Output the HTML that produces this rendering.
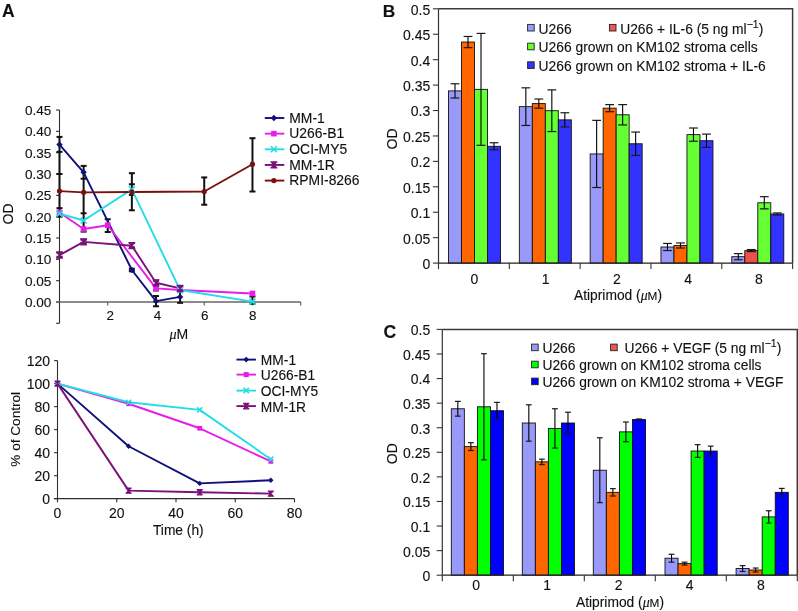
<!DOCTYPE html>
<html><head><meta charset="utf-8"><style>
html,body{margin:0;padding:0;background:#fff;width:798px;height:611px;overflow:hidden}
svg{display:block;will-change:transform}
text{font-family:"Liberation Sans", sans-serif;fill:#111;stroke:#111;stroke-width:0.12px}
</style></head><body>
<svg width="798" height="611" viewBox="0 0 798 611">
<rect width="798" height="611" fill="#fff"/>
<text x="1.90" y="16.80" font-size="17.5" text-anchor="start" font-weight="bold" >A</text>
<text x="382.70" y="16.80" font-size="17.3" text-anchor="start" font-weight="bold" >B</text>
<text x="383.40" y="338.20" font-size="17.6" text-anchor="start" font-weight="bold" >C</text>
<line x1="59.50" y1="110.03" x2="59.50" y2="323.33" stroke="#2e2e2e" stroke-width="1.1"/>
<line x1="56.10" y1="323.33" x2="59.50" y2="323.33" stroke="#2e2e2e" stroke-width="1.1"/>
<line x1="56.10" y1="302.00" x2="59.50" y2="302.00" stroke="#2e2e2e" stroke-width="1.1"/>
<text x="51.40" y="307.00" font-size="13.6" text-anchor="end" font-weight="normal" >0.00</text>
<line x1="56.10" y1="280.67" x2="59.50" y2="280.67" stroke="#2e2e2e" stroke-width="1.1"/>
<text x="51.40" y="285.67" font-size="13.6" text-anchor="end" font-weight="normal" >0.05</text>
<line x1="56.10" y1="259.34" x2="59.50" y2="259.34" stroke="#2e2e2e" stroke-width="1.1"/>
<text x="51.40" y="264.34" font-size="13.6" text-anchor="end" font-weight="normal" >0.10</text>
<line x1="56.10" y1="238.01" x2="59.50" y2="238.01" stroke="#2e2e2e" stroke-width="1.1"/>
<text x="51.40" y="243.01" font-size="13.6" text-anchor="end" font-weight="normal" >0.15</text>
<line x1="56.10" y1="216.68" x2="59.50" y2="216.68" stroke="#2e2e2e" stroke-width="1.1"/>
<text x="51.40" y="221.68" font-size="13.6" text-anchor="end" font-weight="normal" >0.20</text>
<line x1="56.10" y1="195.35" x2="59.50" y2="195.35" stroke="#2e2e2e" stroke-width="1.1"/>
<text x="51.40" y="200.35" font-size="13.6" text-anchor="end" font-weight="normal" >0.25</text>
<line x1="56.10" y1="174.02" x2="59.50" y2="174.02" stroke="#2e2e2e" stroke-width="1.1"/>
<text x="51.40" y="179.02" font-size="13.6" text-anchor="end" font-weight="normal" >0.30</text>
<line x1="56.10" y1="152.69" x2="59.50" y2="152.69" stroke="#2e2e2e" stroke-width="1.1"/>
<text x="51.40" y="157.69" font-size="13.6" text-anchor="end" font-weight="normal" >0.35</text>
<line x1="56.10" y1="131.36" x2="59.50" y2="131.36" stroke="#2e2e2e" stroke-width="1.1"/>
<text x="51.40" y="136.36" font-size="13.6" text-anchor="end" font-weight="normal" >0.40</text>
<line x1="56.10" y1="110.03" x2="59.50" y2="110.03" stroke="#2e2e2e" stroke-width="1.1"/>
<text x="51.40" y="115.03" font-size="13.6" text-anchor="end" font-weight="normal" >0.45</text>
<line x1="56.10" y1="302.00" x2="300.70" y2="302.00" stroke="#666" stroke-width="1.7"/>
<line x1="107.74" y1="302.00" x2="107.74" y2="305.40" stroke="#555" stroke-width="1.1"/>
<line x1="155.98" y1="302.00" x2="155.98" y2="305.40" stroke="#555" stroke-width="1.1"/>
<line x1="204.22" y1="302.00" x2="204.22" y2="305.40" stroke="#555" stroke-width="1.1"/>
<line x1="252.46" y1="302.00" x2="252.46" y2="305.40" stroke="#555" stroke-width="1.1"/>
<line x1="300.70" y1="302.00" x2="300.70" y2="305.40" stroke="#555" stroke-width="1.1"/>
<text x="110.24" y="319.60" font-size="13.4" text-anchor="middle" font-weight="normal" >2</text>
<text x="157.58" y="319.60" font-size="13.4" text-anchor="middle" font-weight="normal" >4</text>
<text x="204.72" y="319.60" font-size="13.4" text-anchor="middle" font-weight="normal" >6</text>
<text x="252.76" y="319.60" font-size="13.4" text-anchor="middle" font-weight="normal" >8</text>
<text x="0" y="0" font-size="14" text-anchor="middle" transform="translate(13.3,214) rotate(-90)">OD</text>
<text x="169.5" y="339" font-size="14"><tspan font-family="Liberation Serif" font-style="italic">&#956;</tspan>M</text>
<line x1="59.50" y1="136.91" x2="59.50" y2="216.68" stroke="#111" stroke-width="2.0"/>
<line x1="56.50" y1="136.91" x2="62.50" y2="136.91" stroke="#111" stroke-width="2.0"/>
<line x1="56.50" y1="151.84" x2="62.50" y2="151.84" stroke="#111" stroke-width="2.0"/>
<line x1="56.50" y1="174.02" x2="62.50" y2="174.02" stroke="#111" stroke-width="2.0"/>
<line x1="56.50" y1="208.15" x2="62.50" y2="208.15" stroke="#111" stroke-width="2.0"/>
<line x1="56.50" y1="216.68" x2="62.50" y2="216.68" stroke="#111" stroke-width="2.0"/>
<line x1="83.62" y1="165.91" x2="83.62" y2="231.61" stroke="#111" stroke-width="2.0"/>
<line x1="80.62" y1="165.91" x2="86.62" y2="165.91" stroke="#111" stroke-width="2.0"/>
<line x1="80.62" y1="178.71" x2="86.62" y2="178.71" stroke="#111" stroke-width="2.0"/>
<line x1="80.62" y1="213.27" x2="86.62" y2="213.27" stroke="#111" stroke-width="2.0"/>
<line x1="80.62" y1="231.61" x2="86.62" y2="231.61" stroke="#111" stroke-width="2.0"/>
<line x1="107.74" y1="219.24" x2="107.74" y2="232.04" stroke="#111" stroke-width="2.0"/>
<line x1="104.74" y1="219.24" x2="110.74" y2="219.24" stroke="#111" stroke-width="2.0"/>
<line x1="104.74" y1="232.04" x2="110.74" y2="232.04" stroke="#111" stroke-width="2.0"/>
<line x1="131.86" y1="173.17" x2="131.86" y2="210.28" stroke="#111" stroke-width="2.0"/>
<line x1="128.86" y1="173.17" x2="134.86" y2="173.17" stroke="#111" stroke-width="2.0"/>
<line x1="128.86" y1="184.26" x2="134.86" y2="184.26" stroke="#111" stroke-width="2.0"/>
<line x1="128.86" y1="194.92" x2="134.86" y2="194.92" stroke="#111" stroke-width="2.0"/>
<line x1="128.86" y1="210.28" x2="134.86" y2="210.28" stroke="#111" stroke-width="2.0"/>
<line x1="131.86" y1="243.13" x2="131.86" y2="247.40" stroke="#111" stroke-width="2.0"/>
<line x1="128.86" y1="243.13" x2="134.86" y2="243.13" stroke="#111" stroke-width="2.0"/>
<line x1="128.86" y1="247.40" x2="134.86" y2="247.40" stroke="#111" stroke-width="2.0"/>
<line x1="131.86" y1="268.73" x2="131.86" y2="271.28" stroke="#111" stroke-width="2.0"/>
<line x1="128.86" y1="271.28" x2="134.86" y2="271.28" stroke="#111" stroke-width="2.0"/>
<line x1="128.86" y1="268.73" x2="134.86" y2="268.73" stroke="#111" stroke-width="2.0"/>
<line x1="155.98" y1="296.03" x2="155.98" y2="306.27" stroke="#111" stroke-width="2.0"/>
<line x1="152.98" y1="306.27" x2="158.98" y2="306.27" stroke="#111" stroke-width="2.0"/>
<line x1="152.98" y1="296.03" x2="158.98" y2="296.03" stroke="#111" stroke-width="2.0"/>
<line x1="155.98" y1="280.67" x2="155.98" y2="284.94" stroke="#111" stroke-width="2.0"/>
<line x1="152.98" y1="284.94" x2="158.98" y2="284.94" stroke="#111" stroke-width="2.0"/>
<line x1="152.98" y1="280.67" x2="158.98" y2="280.67" stroke="#111" stroke-width="2.0"/>
<line x1="155.98" y1="286.22" x2="155.98" y2="290.48" stroke="#111" stroke-width="2.0"/>
<line x1="152.98" y1="290.48" x2="158.98" y2="290.48" stroke="#111" stroke-width="2.0"/>
<line x1="152.98" y1="286.22" x2="158.98" y2="286.22" stroke="#111" stroke-width="2.0"/>
<line x1="83.62" y1="239.72" x2="83.62" y2="243.13" stroke="#111" stroke-width="2.0"/>
<line x1="80.62" y1="243.13" x2="86.62" y2="243.13" stroke="#111" stroke-width="2.0"/>
<line x1="80.62" y1="239.72" x2="86.62" y2="239.72" stroke="#111" stroke-width="2.0"/>
<line x1="59.50" y1="252.51" x2="59.50" y2="256.78" stroke="#111" stroke-width="2.0"/>
<line x1="56.50" y1="256.78" x2="62.50" y2="256.78" stroke="#111" stroke-width="2.0"/>
<line x1="56.50" y1="252.51" x2="62.50" y2="252.51" stroke="#111" stroke-width="2.0"/>
<line x1="180.10" y1="286.64" x2="180.10" y2="290.06" stroke="#111" stroke-width="2.0"/>
<line x1="177.10" y1="290.06" x2="183.10" y2="290.06" stroke="#111" stroke-width="2.0"/>
<line x1="177.10" y1="286.64" x2="183.10" y2="286.64" stroke="#111" stroke-width="2.0"/>
<line x1="180.10" y1="286.64" x2="180.10" y2="302.85" stroke="#111" stroke-width="2.0"/>
<line x1="177.10" y1="302.85" x2="183.10" y2="302.85" stroke="#111" stroke-width="2.0"/>
<line x1="177.10" y1="291.33" x2="183.10" y2="291.33" stroke="#111" stroke-width="2.0"/>
<line x1="177.10" y1="286.64" x2="183.10" y2="286.64" stroke="#111" stroke-width="2.0"/>
<line x1="204.22" y1="177.43" x2="204.22" y2="204.74" stroke="#111" stroke-width="2.0"/>
<line x1="201.22" y1="204.74" x2="207.22" y2="204.74" stroke="#111" stroke-width="2.0"/>
<line x1="201.22" y1="177.43" x2="207.22" y2="177.43" stroke="#111" stroke-width="2.0"/>
<line x1="252.46" y1="138.19" x2="252.46" y2="191.51" stroke="#111" stroke-width="2.0"/>
<line x1="249.46" y1="191.51" x2="255.46" y2="191.51" stroke="#111" stroke-width="2.0"/>
<line x1="249.46" y1="138.19" x2="255.46" y2="138.19" stroke="#111" stroke-width="2.0"/>
<line x1="252.46" y1="296.45" x2="252.46" y2="303.71" stroke="#111" stroke-width="2.0"/>
<line x1="249.46" y1="303.71" x2="255.46" y2="303.71" stroke="#111" stroke-width="2.0"/>
<line x1="249.46" y1="296.45" x2="255.46" y2="296.45" stroke="#111" stroke-width="2.0"/>
<path d="M59.50 144.58L83.62 172.31L131.86 270.00L155.98 301.15L180.10 296.88" fill="none" stroke="#10107a" stroke-width="1.9" stroke-linejoin="round"/>
<path d="M59.50 212.41L83.62 229.05L107.74 225.21L155.98 288.35L180.10 290.06L252.46 293.47" fill="none" stroke="#e81ee8" stroke-width="1.9" stroke-linejoin="round"/>
<path d="M59.50 213.69L83.62 220.52L131.86 189.38L180.10 290.06L252.46 301.57" fill="none" stroke="#22dde6" stroke-width="1.9" stroke-linejoin="round"/>
<path d="M59.50 255.07L83.62 241.85L131.86 245.69L155.98 282.80L180.10 288.35" fill="none" stroke="#7a127a" stroke-width="1.9" stroke-linejoin="round"/>
<path d="M59.50 191.08L83.62 192.36L131.86 191.94L204.22 191.51L252.46 164.21" fill="none" stroke="#7a1010" stroke-width="1.9" stroke-linejoin="round"/>
<path d="M59.50 141.38L62.70 144.58L59.50 147.78L56.30 144.58Z" fill="#10107a"/>
<path d="M83.62 169.11L86.82 172.31L83.62 175.51L80.42 172.31Z" fill="#10107a"/>
<path d="M131.86 266.81L135.06 270.00L131.86 273.20L128.66 270.00Z" fill="#10107a"/>
<path d="M155.98 297.95L159.18 301.15L155.98 304.35L152.78 301.15Z" fill="#10107a"/>
<path d="M180.10 293.68L183.30 296.88L180.10 300.08L176.90 296.88Z" fill="#10107a"/>
<rect x="56.70" y="209.61" width="5.60" height="5.60" fill="#e81ee8"/>
<rect x="80.82" y="226.25" width="5.60" height="5.60" fill="#e81ee8"/>
<rect x="104.94" y="222.41" width="5.60" height="5.60" fill="#e81ee8"/>
<rect x="153.18" y="285.55" width="5.60" height="5.60" fill="#e81ee8"/>
<rect x="177.30" y="287.26" width="5.60" height="5.60" fill="#e81ee8"/>
<rect x="249.66" y="290.67" width="5.60" height="5.60" fill="#e81ee8"/>
<path d="M56.50 210.69L62.50 216.69M62.50 210.69L56.50 216.69" stroke="#22dde6" stroke-width="1.6"/>
<path d="M80.62 217.52L86.62 223.52M86.62 217.52L80.62 223.52" stroke="#22dde6" stroke-width="1.6"/>
<path d="M128.86 186.38L134.86 192.38M134.86 186.38L128.86 192.38" stroke="#22dde6" stroke-width="1.6"/>
<path d="M177.10 287.06L183.10 293.06M183.10 287.06L177.10 293.06" stroke="#22dde6" stroke-width="1.6"/>
<path d="M249.46 298.57L255.46 304.57M255.46 298.57L249.46 304.57" stroke="#22dde6" stroke-width="1.6"/>
<path d="M56.50 252.07L62.50 252.07L56.50 258.07L62.50 258.07Z" fill="#7a127a" stroke="#7a127a" stroke-width="1.2" stroke-linejoin="round"/>
<path d="M80.62 238.85L86.62 238.85L80.62 244.85L86.62 244.85Z" fill="#7a127a" stroke="#7a127a" stroke-width="1.2" stroke-linejoin="round"/>
<path d="M128.86 242.69L134.86 242.69L128.86 248.69L134.86 248.69Z" fill="#7a127a" stroke="#7a127a" stroke-width="1.2" stroke-linejoin="round"/>
<path d="M152.98 279.80L158.98 279.80L152.98 285.80L158.98 285.80Z" fill="#7a127a" stroke="#7a127a" stroke-width="1.2" stroke-linejoin="round"/>
<path d="M177.10 285.35L183.10 285.35L177.10 291.35L183.10 291.35Z" fill="#7a127a" stroke="#7a127a" stroke-width="1.2" stroke-linejoin="round"/>
<circle cx="59.50" cy="191.08" r="2.60" fill="#7a1010"/>
<circle cx="83.62" cy="192.36" r="2.60" fill="#7a1010"/>
<circle cx="131.86" cy="191.94" r="2.60" fill="#7a1010"/>
<circle cx="204.22" cy="191.51" r="2.60" fill="#7a1010"/>
<circle cx="252.46" cy="164.21" r="2.60" fill="#7a1010"/>
<line x1="264.80" y1="118.00" x2="284.30" y2="118.00" stroke="#10107a" stroke-width="1.9"/>
<path d="M273.90 114.80L277.10 118.00L273.90 121.20L270.70 118.00Z" fill="#10107a"/>
<text x="289.30" y="122.80" font-size="13.9" text-anchor="start" font-weight="normal" >MM-1</text>
<line x1="264.80" y1="133.65" x2="284.30" y2="133.65" stroke="#e81ee8" stroke-width="1.9"/>
<rect x="271.10" y="130.85" width="5.60" height="5.60" fill="#e81ee8"/>
<text x="289.30" y="138.45" font-size="13.9" text-anchor="start" font-weight="normal" >U266-B1</text>
<line x1="264.80" y1="149.30" x2="284.30" y2="149.30" stroke="#22dde6" stroke-width="1.9"/>
<path d="M270.90 146.30L276.90 152.30M276.90 146.30L270.90 152.30" stroke="#22dde6" stroke-width="1.6"/>
<text x="289.30" y="154.10" font-size="13.9" text-anchor="start" font-weight="normal" >OCI-MY5</text>
<line x1="264.80" y1="164.95" x2="284.30" y2="164.95" stroke="#7a127a" stroke-width="1.9"/>
<path d="M270.90 161.95L276.90 161.95L270.90 167.95L276.90 167.95Z" fill="#7a127a" stroke="#7a127a" stroke-width="1.2" stroke-linejoin="round"/>
<text x="289.30" y="169.75" font-size="13.9" text-anchor="start" font-weight="normal" >MM-1R</text>
<line x1="264.80" y1="180.60" x2="284.30" y2="180.60" stroke="#7a1010" stroke-width="1.9"/>
<circle cx="273.90" cy="180.60" r="2.60" fill="#7a1010"/>
<text x="289.30" y="185.40" font-size="13.9" text-anchor="start" font-weight="normal" >RPMI-8266</text>
<line x1="57.50" y1="360.60" x2="57.50" y2="498.70" stroke="#2e2e2e" stroke-width="1.1"/>
<line x1="54.10" y1="498.70" x2="57.50" y2="498.70" stroke="#2e2e2e" stroke-width="1.1"/>
<text x="50.00" y="504.30" font-size="14" text-anchor="end" font-weight="normal" >0</text>
<line x1="54.10" y1="475.68" x2="57.50" y2="475.68" stroke="#2e2e2e" stroke-width="1.1"/>
<text x="50.00" y="481.28" font-size="14" text-anchor="end" font-weight="normal" >20</text>
<line x1="54.10" y1="452.67" x2="57.50" y2="452.67" stroke="#2e2e2e" stroke-width="1.1"/>
<text x="50.00" y="458.27" font-size="14" text-anchor="end" font-weight="normal" >40</text>
<line x1="54.10" y1="429.65" x2="57.50" y2="429.65" stroke="#2e2e2e" stroke-width="1.1"/>
<text x="50.00" y="435.25" font-size="14" text-anchor="end" font-weight="normal" >60</text>
<line x1="54.10" y1="406.63" x2="57.50" y2="406.63" stroke="#2e2e2e" stroke-width="1.1"/>
<text x="50.00" y="412.23" font-size="14" text-anchor="end" font-weight="normal" >80</text>
<line x1="54.10" y1="383.62" x2="57.50" y2="383.62" stroke="#2e2e2e" stroke-width="1.1"/>
<text x="50.00" y="389.22" font-size="14" text-anchor="end" font-weight="normal" >100</text>
<line x1="54.10" y1="360.60" x2="57.50" y2="360.60" stroke="#2e2e2e" stroke-width="1.1"/>
<text x="50.00" y="366.20" font-size="14" text-anchor="end" font-weight="normal" >120</text>
<line x1="54.10" y1="498.70" x2="294.50" y2="498.70" stroke="#2e2e2e" stroke-width="1.2"/>
<line x1="57.50" y1="498.70" x2="57.50" y2="502.30" stroke="#2e2e2e" stroke-width="1.1"/>
<text x="57.50" y="517.80" font-size="14" text-anchor="middle" font-weight="normal" >0</text>
<line x1="116.75" y1="498.70" x2="116.75" y2="502.30" stroke="#2e2e2e" stroke-width="1.1"/>
<text x="116.75" y="517.80" font-size="14" text-anchor="middle" font-weight="normal" >20</text>
<line x1="176.00" y1="498.70" x2="176.00" y2="502.30" stroke="#2e2e2e" stroke-width="1.1"/>
<text x="176.00" y="517.80" font-size="14" text-anchor="middle" font-weight="normal" >40</text>
<line x1="235.25" y1="498.70" x2="235.25" y2="502.30" stroke="#2e2e2e" stroke-width="1.1"/>
<text x="235.25" y="517.80" font-size="14" text-anchor="middle" font-weight="normal" >60</text>
<line x1="294.50" y1="498.70" x2="294.50" y2="502.30" stroke="#2e2e2e" stroke-width="1.1"/>
<text x="294.50" y="517.80" font-size="14" text-anchor="middle" font-weight="normal" >80</text>
<text x="178.30" y="535.00" font-size="13.75" text-anchor="middle" font-weight="normal" >Time (h)</text>
<text x="0" y="0" font-size="13.6" text-anchor="middle" transform="translate(19.9,429.3) rotate(-90)">% of Control</text>
<path d="M57.50 383.62L128.60 446.22L199.70 483.39L270.80 480.29" fill="none" stroke="#10107a" stroke-width="1.9" stroke-linejoin="round"/>
<path d="M57.50 383.62L128.60 403.76L199.70 428.27L270.80 461.41" fill="none" stroke="#e81ee8" stroke-width="1.9" stroke-linejoin="round"/>
<path d="M57.50 383.62L128.60 402.26L199.70 409.86L270.80 459.23" fill="none" stroke="#22dde6" stroke-width="1.9" stroke-linejoin="round"/>
<path d="M57.50 383.62L128.60 490.64L199.70 492.26L270.80 493.64" fill="none" stroke="#7a127a" stroke-width="1.9" stroke-linejoin="round"/>
<path d="M57.50 380.90L60.22 383.62L57.50 386.34L54.78 383.62Z" fill="#10107a"/>
<path d="M128.60 443.50L131.32 446.22L128.60 448.94L125.88 446.22Z" fill="#10107a"/>
<path d="M199.70 480.67L202.42 483.39L199.70 486.11L196.98 483.39Z" fill="#10107a"/>
<path d="M270.80 477.57L273.52 480.29L270.80 483.01L268.08 480.29Z" fill="#10107a"/>
<rect x="55.12" y="381.24" width="4.76" height="4.76" fill="#e81ee8"/>
<rect x="126.22" y="401.38" width="4.76" height="4.76" fill="#e81ee8"/>
<rect x="197.32" y="425.89" width="4.76" height="4.76" fill="#e81ee8"/>
<rect x="268.42" y="459.03" width="4.76" height="4.76" fill="#e81ee8"/>
<path d="M54.95 381.07L60.05 386.17M60.05 381.07L54.95 386.17" stroke="#22dde6" stroke-width="1.6"/>
<path d="M126.05 399.71L131.15 404.81M131.15 399.71L126.05 404.81" stroke="#22dde6" stroke-width="1.6"/>
<path d="M197.15 407.31L202.25 412.41M202.25 407.31L197.15 412.41" stroke="#22dde6" stroke-width="1.6"/>
<path d="M268.25 456.68L273.35 461.78M273.35 456.68L268.25 461.78" stroke="#22dde6" stroke-width="1.6"/>
<path d="M54.95 381.07L60.05 381.07L54.95 386.17L60.05 386.17Z" fill="#7a127a" stroke="#7a127a" stroke-width="1.2" stroke-linejoin="round"/>
<path d="M126.05 488.09L131.15 488.09L126.05 493.19L131.15 493.19Z" fill="#7a127a" stroke="#7a127a" stroke-width="1.2" stroke-linejoin="round"/>
<path d="M197.15 489.71L202.25 489.71L197.15 494.81L202.25 494.81Z" fill="#7a127a" stroke="#7a127a" stroke-width="1.2" stroke-linejoin="round"/>
<path d="M268.25 491.09L273.35 491.09L268.25 496.19L273.35 496.19Z" fill="#7a127a" stroke="#7a127a" stroke-width="1.2" stroke-linejoin="round"/>
<line x1="236.50" y1="359.60" x2="256.00" y2="359.60" stroke="#10107a" stroke-width="1.9"/>
<path d="M246.20 356.72L249.08 359.60L246.20 362.48L243.32 359.60Z" fill="#10107a"/>
<text x="260.80" y="365.00" font-size="13.8" text-anchor="start" font-weight="normal" >MM-1</text>
<line x1="236.50" y1="374.60" x2="256.00" y2="374.60" stroke="#e81ee8" stroke-width="1.9"/>
<rect x="243.68" y="372.08" width="5.04" height="5.04" fill="#e81ee8"/>
<text x="260.80" y="380.00" font-size="13.8" text-anchor="start" font-weight="normal" >U266-B1</text>
<line x1="236.50" y1="390.60" x2="256.00" y2="390.60" stroke="#22dde6" stroke-width="1.9"/>
<path d="M243.50 387.90L248.90 393.30M248.90 387.90L243.50 393.30" stroke="#22dde6" stroke-width="1.6"/>
<text x="260.80" y="396.00" font-size="13.8" text-anchor="start" font-weight="normal" >OCI-MY5</text>
<line x1="236.50" y1="406.10" x2="256.00" y2="406.10" stroke="#7a127a" stroke-width="1.9"/>
<path d="M243.50 403.40L248.90 403.40L243.50 408.80L248.90 408.80Z" fill="#7a127a" stroke="#7a127a" stroke-width="1.2" stroke-linejoin="round"/>
<text x="260.80" y="411.50" font-size="13.8" text-anchor="start" font-weight="normal" >MM-1R</text>
<rect x="448.51" y="90.88" width="13.00" height="172.22" fill="#9999fa" stroke="#111" stroke-width="0.9"/>
<rect x="461.51" y="42.05" width="13.00" height="221.05" fill="#ff6600" stroke="#111" stroke-width="0.9"/>
<rect x="474.51" y="89.35" width="13.00" height="173.75" fill="#66ff33" stroke="#111" stroke-width="0.9"/>
<rect x="487.51" y="146.31" width="13.00" height="116.79" fill="#3333ff" stroke="#111" stroke-width="0.9"/>
<line x1="455.01" y1="83.76" x2="455.01" y2="98.00" stroke="#000" stroke-width="1.1"/>
<line x1="450.61" y1="83.76" x2="459.41" y2="83.76" stroke="#1a1a1a" stroke-width="1.2"/>
<line x1="450.61" y1="98.00" x2="459.41" y2="98.00" stroke="#1a1a1a" stroke-width="1.2"/>
<line x1="468.01" y1="36.46" x2="468.01" y2="47.65" stroke="#000" stroke-width="1.1"/>
<line x1="463.61" y1="36.46" x2="472.41" y2="36.46" stroke="#1a1a1a" stroke-width="1.2"/>
<line x1="463.61" y1="47.65" x2="472.41" y2="47.65" stroke="#1a1a1a" stroke-width="1.2"/>
<line x1="481.01" y1="33.40" x2="481.01" y2="145.30" stroke="#000" stroke-width="1.1"/>
<line x1="476.61" y1="33.40" x2="485.41" y2="33.40" stroke="#1a1a1a" stroke-width="1.2"/>
<line x1="476.61" y1="145.30" x2="485.41" y2="145.30" stroke="#1a1a1a" stroke-width="1.2"/>
<line x1="494.01" y1="142.75" x2="494.01" y2="149.87" stroke="#000" stroke-width="1.1"/>
<line x1="489.61" y1="142.75" x2="498.41" y2="142.75" stroke="#1a1a1a" stroke-width="1.2"/>
<line x1="489.61" y1="149.87" x2="498.41" y2="149.87" stroke="#1a1a1a" stroke-width="1.2"/>
<rect x="519.33" y="106.64" width="13.00" height="156.46" fill="#9999fa" stroke="#111" stroke-width="0.9"/>
<rect x="532.33" y="103.59" width="13.00" height="159.51" fill="#ff6600" stroke="#111" stroke-width="0.9"/>
<rect x="545.33" y="110.71" width="13.00" height="152.39" fill="#66ff33" stroke="#111" stroke-width="0.9"/>
<rect x="558.33" y="119.87" width="13.00" height="143.23" fill="#3333ff" stroke="#111" stroke-width="0.9"/>
<line x1="525.83" y1="87.82" x2="525.83" y2="125.46" stroke="#000" stroke-width="1.1"/>
<line x1="521.43" y1="87.82" x2="530.23" y2="87.82" stroke="#1a1a1a" stroke-width="1.2"/>
<line x1="521.43" y1="125.46" x2="530.23" y2="125.46" stroke="#1a1a1a" stroke-width="1.2"/>
<line x1="538.83" y1="99.01" x2="538.83" y2="108.17" stroke="#000" stroke-width="1.1"/>
<line x1="534.43" y1="99.01" x2="543.23" y2="99.01" stroke="#1a1a1a" stroke-width="1.2"/>
<line x1="534.43" y1="108.17" x2="543.23" y2="108.17" stroke="#1a1a1a" stroke-width="1.2"/>
<line x1="551.83" y1="89.86" x2="551.83" y2="131.56" stroke="#000" stroke-width="1.1"/>
<line x1="547.43" y1="89.86" x2="556.23" y2="89.86" stroke="#1a1a1a" stroke-width="1.2"/>
<line x1="547.43" y1="131.56" x2="556.23" y2="131.56" stroke="#1a1a1a" stroke-width="1.2"/>
<line x1="564.83" y1="112.75" x2="564.83" y2="126.99" stroke="#000" stroke-width="1.1"/>
<line x1="560.43" y1="112.75" x2="569.23" y2="112.75" stroke="#1a1a1a" stroke-width="1.2"/>
<line x1="560.43" y1="126.99" x2="569.23" y2="126.99" stroke="#1a1a1a" stroke-width="1.2"/>
<rect x="590.15" y="153.94" width="13.00" height="109.16" fill="#9999fa" stroke="#111" stroke-width="0.9"/>
<rect x="603.15" y="108.17" width="13.00" height="154.93" fill="#ff6600" stroke="#111" stroke-width="0.9"/>
<rect x="616.15" y="114.78" width="13.00" height="148.32" fill="#66ff33" stroke="#111" stroke-width="0.9"/>
<rect x="629.15" y="143.77" width="13.00" height="119.33" fill="#3333ff" stroke="#111" stroke-width="0.9"/>
<line x1="596.65" y1="120.37" x2="596.65" y2="187.51" stroke="#000" stroke-width="1.1"/>
<line x1="592.25" y1="120.37" x2="601.05" y2="120.37" stroke="#1a1a1a" stroke-width="1.2"/>
<line x1="592.25" y1="187.51" x2="601.05" y2="187.51" stroke="#1a1a1a" stroke-width="1.2"/>
<line x1="609.65" y1="104.61" x2="609.65" y2="111.73" stroke="#000" stroke-width="1.1"/>
<line x1="605.25" y1="104.61" x2="614.05" y2="104.61" stroke="#1a1a1a" stroke-width="1.2"/>
<line x1="605.25" y1="111.73" x2="614.05" y2="111.73" stroke="#1a1a1a" stroke-width="1.2"/>
<line x1="622.65" y1="104.61" x2="622.65" y2="124.95" stroke="#000" stroke-width="1.1"/>
<line x1="618.25" y1="104.61" x2="627.05" y2="104.61" stroke="#1a1a1a" stroke-width="1.2"/>
<line x1="618.25" y1="124.95" x2="627.05" y2="124.95" stroke="#1a1a1a" stroke-width="1.2"/>
<line x1="635.65" y1="132.07" x2="635.65" y2="155.47" stroke="#000" stroke-width="1.1"/>
<line x1="631.25" y1="132.07" x2="640.05" y2="132.07" stroke="#1a1a1a" stroke-width="1.2"/>
<line x1="631.25" y1="155.47" x2="640.05" y2="155.47" stroke="#1a1a1a" stroke-width="1.2"/>
<rect x="660.97" y="247.02" width="13.00" height="16.08" fill="#9999fa" stroke="#111" stroke-width="0.9"/>
<rect x="673.97" y="245.49" width="13.00" height="17.61" fill="#ff6600" stroke="#111" stroke-width="0.9"/>
<rect x="686.97" y="134.62" width="13.00" height="128.48" fill="#66ff33" stroke="#111" stroke-width="0.9"/>
<rect x="699.97" y="140.72" width="13.00" height="122.38" fill="#3333ff" stroke="#111" stroke-width="0.9"/>
<line x1="667.47" y1="243.46" x2="667.47" y2="250.58" stroke="#000" stroke-width="1.1"/>
<line x1="663.07" y1="243.46" x2="671.87" y2="243.46" stroke="#1a1a1a" stroke-width="1.2"/>
<line x1="663.07" y1="250.58" x2="671.87" y2="250.58" stroke="#1a1a1a" stroke-width="1.2"/>
<line x1="680.47" y1="242.95" x2="680.47" y2="248.03" stroke="#000" stroke-width="1.1"/>
<line x1="676.07" y1="242.95" x2="684.87" y2="242.95" stroke="#1a1a1a" stroke-width="1.2"/>
<line x1="676.07" y1="248.03" x2="684.87" y2="248.03" stroke="#1a1a1a" stroke-width="1.2"/>
<line x1="693.47" y1="128.00" x2="693.47" y2="141.23" stroke="#000" stroke-width="1.1"/>
<line x1="689.07" y1="128.00" x2="697.87" y2="128.00" stroke="#1a1a1a" stroke-width="1.2"/>
<line x1="689.07" y1="141.23" x2="697.87" y2="141.23" stroke="#1a1a1a" stroke-width="1.2"/>
<line x1="706.47" y1="134.11" x2="706.47" y2="147.33" stroke="#000" stroke-width="1.1"/>
<line x1="702.07" y1="134.11" x2="710.87" y2="134.11" stroke="#1a1a1a" stroke-width="1.2"/>
<line x1="702.07" y1="147.33" x2="710.87" y2="147.33" stroke="#1a1a1a" stroke-width="1.2"/>
<rect x="731.79" y="256.68" width="13.00" height="6.42" fill="#9999fa" stroke="#111" stroke-width="0.9"/>
<rect x="744.79" y="250.58" width="13.00" height="12.52" fill="#f0504a" stroke="#111" stroke-width="0.9"/>
<rect x="757.79" y="202.77" width="13.00" height="60.33" fill="#66ff33" stroke="#111" stroke-width="0.9"/>
<rect x="770.79" y="213.96" width="13.00" height="49.14" fill="#3333ff" stroke="#111" stroke-width="0.9"/>
<line x1="738.29" y1="253.63" x2="738.29" y2="259.73" stroke="#000" stroke-width="1.1"/>
<line x1="733.89" y1="253.63" x2="742.69" y2="253.63" stroke="#1a1a1a" stroke-width="1.2"/>
<line x1="733.89" y1="259.73" x2="742.69" y2="259.73" stroke="#1a1a1a" stroke-width="1.2"/>
<line x1="751.29" y1="249.56" x2="751.29" y2="251.59" stroke="#000" stroke-width="1.1"/>
<line x1="746.89" y1="249.56" x2="755.69" y2="249.56" stroke="#1a1a1a" stroke-width="1.2"/>
<line x1="746.89" y1="251.59" x2="755.69" y2="251.59" stroke="#1a1a1a" stroke-width="1.2"/>
<line x1="764.29" y1="196.66" x2="764.29" y2="208.87" stroke="#000" stroke-width="1.1"/>
<line x1="759.89" y1="196.66" x2="768.69" y2="196.66" stroke="#1a1a1a" stroke-width="1.2"/>
<line x1="759.89" y1="208.87" x2="768.69" y2="208.87" stroke="#1a1a1a" stroke-width="1.2"/>
<line x1="777.29" y1="212.94" x2="777.29" y2="214.97" stroke="#000" stroke-width="1.1"/>
<line x1="772.89" y1="212.94" x2="781.69" y2="212.94" stroke="#1a1a1a" stroke-width="1.2"/>
<line x1="772.89" y1="214.97" x2="781.69" y2="214.97" stroke="#1a1a1a" stroke-width="1.2"/>
<path d="M438.50 8.80H792.60V263.10" fill="none" stroke="#3a3a3a" stroke-width="1.5"/>
<line x1="438.50" y1="8.80" x2="438.50" y2="263.10" stroke="#333" stroke-width="1.2"/>
<line x1="438.50" y1="263.10" x2="792.60" y2="263.10" stroke="#222" stroke-width="1.3"/>
<line x1="432.90" y1="263.10" x2="438.50" y2="263.10" stroke="#333" stroke-width="1.1"/>
<text x="430.30" y="269.00" font-size="14" text-anchor="end" font-weight="normal" >0</text>
<line x1="432.90" y1="237.67" x2="438.50" y2="237.67" stroke="#333" stroke-width="1.1"/>
<text x="430.30" y="243.57" font-size="14" text-anchor="end" font-weight="normal" >0.05</text>
<line x1="432.90" y1="212.24" x2="438.50" y2="212.24" stroke="#333" stroke-width="1.1"/>
<text x="430.30" y="218.14" font-size="14" text-anchor="end" font-weight="normal" >0.1</text>
<line x1="432.90" y1="186.81" x2="438.50" y2="186.81" stroke="#333" stroke-width="1.1"/>
<text x="430.30" y="192.71" font-size="14" text-anchor="end" font-weight="normal" >0.15</text>
<line x1="432.90" y1="161.38" x2="438.50" y2="161.38" stroke="#333" stroke-width="1.1"/>
<text x="430.30" y="167.28" font-size="14" text-anchor="end" font-weight="normal" >0.2</text>
<line x1="432.90" y1="135.95" x2="438.50" y2="135.95" stroke="#333" stroke-width="1.1"/>
<text x="430.30" y="141.85" font-size="14" text-anchor="end" font-weight="normal" >0.25</text>
<line x1="432.90" y1="110.52" x2="438.50" y2="110.52" stroke="#333" stroke-width="1.1"/>
<text x="430.30" y="116.42" font-size="14" text-anchor="end" font-weight="normal" >0.3</text>
<line x1="432.90" y1="85.09" x2="438.50" y2="85.09" stroke="#333" stroke-width="1.1"/>
<text x="430.30" y="90.99" font-size="14" text-anchor="end" font-weight="normal" >0.35</text>
<line x1="432.90" y1="59.66" x2="438.50" y2="59.66" stroke="#333" stroke-width="1.1"/>
<text x="430.30" y="65.56" font-size="14" text-anchor="end" font-weight="normal" >0.4</text>
<line x1="432.90" y1="34.23" x2="438.50" y2="34.23" stroke="#333" stroke-width="1.1"/>
<text x="430.30" y="40.13" font-size="14" text-anchor="end" font-weight="normal" >0.45</text>
<line x1="432.90" y1="8.80" x2="438.50" y2="8.80" stroke="#333" stroke-width="1.1"/>
<text x="430.30" y="14.70" font-size="14" text-anchor="end" font-weight="normal" >0.5</text>
<line x1="438.50" y1="263.10" x2="438.50" y2="269.10" stroke="#333" stroke-width="1.1"/>
<line x1="509.32" y1="263.10" x2="509.32" y2="269.10" stroke="#333" stroke-width="1.1"/>
<line x1="580.14" y1="263.10" x2="580.14" y2="269.10" stroke="#333" stroke-width="1.1"/>
<line x1="650.96" y1="263.10" x2="650.96" y2="269.10" stroke="#333" stroke-width="1.1"/>
<line x1="721.78" y1="263.10" x2="721.78" y2="269.10" stroke="#333" stroke-width="1.1"/>
<line x1="792.60" y1="263.10" x2="792.60" y2="269.10" stroke="#333" stroke-width="1.1"/>
<text x="474.31" y="283.60" font-size="14" text-anchor="middle" font-weight="normal" >0</text>
<text x="545.63" y="283.60" font-size="14" text-anchor="middle" font-weight="normal" >1</text>
<text x="616.85" y="283.60" font-size="14" text-anchor="middle" font-weight="normal" >2</text>
<text x="688.07" y="283.60" font-size="14" text-anchor="middle" font-weight="normal" >4</text>
<text x="758.89" y="283.60" font-size="14" text-anchor="middle" font-weight="normal" >8</text>
<text x="618.00" y="299.60" font-size="13.8" text-anchor="middle">Atiprimod (<tspan font-family="Liberation Serif" font-style="italic">&#956;</tspan><tspan font-size="11.8">M</tspan>)</text>
<text x="0" y="0" font-size="14" text-anchor="middle" transform="translate(396.80,139.00) rotate(-90)">OD</text>
<rect x="527.60" y="24.40" width="6.6" height="6.6" fill="#9999ff" stroke="#222" stroke-width="0.9"/>
<text x="538.60" y="33.70" font-size="13.83">U266</text>
<rect x="609.40" y="24.40" width="6.6" height="6.6" fill="#ee5555" stroke="#222" stroke-width="0.9"/>
<text x="620.20" y="33.70" font-size="13.83">U266 + IL-6 (5 ng ml<tspan dy="-6" font-size="10.5">&#8722;1</tspan><tspan dy="6">)</tspan></text>
<rect x="527.60" y="43.20" width="6.6" height="6.6" fill="#66ff33" stroke="#222" stroke-width="0.9"/>
<text x="538.60" y="52.30" font-size="13.83">U266 grown on KM102 stroma cells</text>
<rect x="527.60" y="61.80" width="6.6" height="6.6" fill="#3333ff" stroke="#222" stroke-width="0.9"/>
<text x="538.60" y="70.50" font-size="13.83">U266 grown on KM102 stroma + IL-6</text>
<rect x="451.30" y="408.76" width="13.05" height="166.44" fill="#9999fa" stroke="#111" stroke-width="0.9"/>
<rect x="464.35" y="446.61" width="13.05" height="128.59" fill="#ff6600" stroke="#111" stroke-width="0.9"/>
<rect x="477.40" y="406.79" width="13.05" height="168.41" fill="#00ff00" stroke="#111" stroke-width="0.9"/>
<rect x="490.45" y="410.72" width="13.05" height="164.48" fill="#0000ff" stroke="#111" stroke-width="0.9"/>
<line x1="457.82" y1="401.38" x2="457.82" y2="416.13" stroke="#000" stroke-width="1.1"/>
<line x1="454.93" y1="401.38" x2="460.72" y2="401.38" stroke="#1a1a1a" stroke-width="1.2"/>
<line x1="454.93" y1="416.13" x2="460.72" y2="416.13" stroke="#1a1a1a" stroke-width="1.2"/>
<line x1="470.88" y1="442.68" x2="470.88" y2="450.54" stroke="#000" stroke-width="1.1"/>
<line x1="467.98" y1="442.68" x2="473.77" y2="442.68" stroke="#1a1a1a" stroke-width="1.2"/>
<line x1="467.98" y1="450.54" x2="473.77" y2="450.54" stroke="#1a1a1a" stroke-width="1.2"/>
<line x1="483.93" y1="353.70" x2="483.93" y2="459.88" stroke="#000" stroke-width="1.1"/>
<line x1="481.03" y1="353.70" x2="486.82" y2="353.70" stroke="#1a1a1a" stroke-width="1.2"/>
<line x1="481.03" y1="459.88" x2="486.82" y2="459.88" stroke="#1a1a1a" stroke-width="1.2"/>
<line x1="496.98" y1="402.37" x2="496.98" y2="419.08" stroke="#000" stroke-width="1.1"/>
<line x1="494.08" y1="402.37" x2="499.88" y2="402.37" stroke="#1a1a1a" stroke-width="1.2"/>
<line x1="494.08" y1="419.08" x2="499.88" y2="419.08" stroke="#1a1a1a" stroke-width="1.2"/>
<rect x="522.30" y="423.01" width="13.05" height="152.19" fill="#9999fa" stroke="#111" stroke-width="0.9"/>
<rect x="535.35" y="461.85" width="13.05" height="113.35" fill="#ff6600" stroke="#111" stroke-width="0.9"/>
<rect x="548.40" y="428.42" width="13.05" height="146.78" fill="#00ff00" stroke="#111" stroke-width="0.9"/>
<rect x="561.45" y="423.01" width="13.05" height="152.19" fill="#0000ff" stroke="#111" stroke-width="0.9"/>
<line x1="528.82" y1="404.82" x2="528.82" y2="441.20" stroke="#000" stroke-width="1.1"/>
<line x1="525.92" y1="404.82" x2="531.72" y2="404.82" stroke="#1a1a1a" stroke-width="1.2"/>
<line x1="525.92" y1="441.20" x2="531.72" y2="441.20" stroke="#1a1a1a" stroke-width="1.2"/>
<line x1="541.87" y1="459.14" x2="541.87" y2="464.55" stroke="#000" stroke-width="1.1"/>
<line x1="538.97" y1="459.14" x2="544.77" y2="459.14" stroke="#1a1a1a" stroke-width="1.2"/>
<line x1="538.97" y1="464.55" x2="544.77" y2="464.55" stroke="#1a1a1a" stroke-width="1.2"/>
<line x1="554.92" y1="408.76" x2="554.92" y2="448.08" stroke="#000" stroke-width="1.1"/>
<line x1="552.02" y1="408.76" x2="557.82" y2="408.76" stroke="#1a1a1a" stroke-width="1.2"/>
<line x1="552.02" y1="448.08" x2="557.82" y2="448.08" stroke="#1a1a1a" stroke-width="1.2"/>
<line x1="567.97" y1="412.20" x2="567.97" y2="433.83" stroke="#000" stroke-width="1.1"/>
<line x1="565.07" y1="412.20" x2="570.87" y2="412.20" stroke="#1a1a1a" stroke-width="1.2"/>
<line x1="565.07" y1="433.83" x2="570.87" y2="433.83" stroke="#1a1a1a" stroke-width="1.2"/>
<rect x="593.30" y="470.21" width="13.05" height="104.99" fill="#9999fa" stroke="#111" stroke-width="0.9"/>
<rect x="606.35" y="492.33" width="13.05" height="82.87" fill="#ff6600" stroke="#111" stroke-width="0.9"/>
<rect x="619.40" y="431.86" width="13.05" height="143.34" fill="#00ff00" stroke="#111" stroke-width="0.9"/>
<rect x="632.45" y="419.57" width="13.05" height="155.63" fill="#0000ff" stroke="#111" stroke-width="0.9"/>
<line x1="599.82" y1="437.76" x2="599.82" y2="502.65" stroke="#000" stroke-width="1.1"/>
<line x1="596.92" y1="437.76" x2="602.72" y2="437.76" stroke="#1a1a1a" stroke-width="1.2"/>
<line x1="596.92" y1="502.65" x2="602.72" y2="502.65" stroke="#1a1a1a" stroke-width="1.2"/>
<line x1="612.87" y1="488.64" x2="612.87" y2="496.02" stroke="#000" stroke-width="1.1"/>
<line x1="609.97" y1="488.64" x2="615.77" y2="488.64" stroke="#1a1a1a" stroke-width="1.2"/>
<line x1="609.97" y1="496.02" x2="615.77" y2="496.02" stroke="#1a1a1a" stroke-width="1.2"/>
<line x1="625.92" y1="422.03" x2="625.92" y2="441.69" stroke="#000" stroke-width="1.1"/>
<line x1="623.02" y1="422.03" x2="628.82" y2="422.03" stroke="#1a1a1a" stroke-width="1.2"/>
<line x1="623.02" y1="441.69" x2="628.82" y2="441.69" stroke="#1a1a1a" stroke-width="1.2"/>
<line x1="638.97" y1="418.98" x2="638.97" y2="420.16" stroke="#000" stroke-width="1.1"/>
<line x1="636.07" y1="418.98" x2="641.87" y2="418.98" stroke="#1a1a1a" stroke-width="1.2"/>
<line x1="636.07" y1="420.16" x2="641.87" y2="420.16" stroke="#1a1a1a" stroke-width="1.2"/>
<rect x="665.00" y="558.20" width="13.05" height="17.00" fill="#9999fa" stroke="#111" stroke-width="0.9"/>
<rect x="678.05" y="563.61" width="13.05" height="11.59" fill="#ff6600" stroke="#111" stroke-width="0.9"/>
<rect x="691.10" y="451.03" width="13.05" height="124.17" fill="#00ff00" stroke="#111" stroke-width="0.9"/>
<rect x="704.15" y="451.03" width="13.05" height="124.17" fill="#0000ff" stroke="#111" stroke-width="0.9"/>
<line x1="671.52" y1="554.27" x2="671.52" y2="562.14" stroke="#000" stroke-width="1.1"/>
<line x1="668.62" y1="554.27" x2="674.42" y2="554.27" stroke="#1a1a1a" stroke-width="1.2"/>
<line x1="668.62" y1="562.14" x2="674.42" y2="562.14" stroke="#1a1a1a" stroke-width="1.2"/>
<line x1="684.57" y1="562.14" x2="684.57" y2="565.08" stroke="#000" stroke-width="1.1"/>
<line x1="681.67" y1="562.14" x2="687.47" y2="562.14" stroke="#1a1a1a" stroke-width="1.2"/>
<line x1="681.67" y1="565.08" x2="687.47" y2="565.08" stroke="#1a1a1a" stroke-width="1.2"/>
<line x1="697.62" y1="444.64" x2="697.62" y2="457.42" stroke="#000" stroke-width="1.1"/>
<line x1="694.73" y1="444.64" x2="700.52" y2="444.64" stroke="#1a1a1a" stroke-width="1.2"/>
<line x1="694.73" y1="457.42" x2="700.52" y2="457.42" stroke="#1a1a1a" stroke-width="1.2"/>
<line x1="710.67" y1="446.12" x2="710.67" y2="455.95" stroke="#000" stroke-width="1.1"/>
<line x1="707.77" y1="446.12" x2="713.57" y2="446.12" stroke="#1a1a1a" stroke-width="1.2"/>
<line x1="707.77" y1="455.95" x2="713.57" y2="455.95" stroke="#1a1a1a" stroke-width="1.2"/>
<rect x="736.10" y="568.53" width="13.05" height="6.67" fill="#9999fa" stroke="#111" stroke-width="0.9"/>
<rect x="749.15" y="570.00" width="13.05" height="5.20" fill="#ff6600" stroke="#111" stroke-width="0.9"/>
<rect x="762.20" y="516.91" width="13.05" height="58.29" fill="#00ff00" stroke="#111" stroke-width="0.9"/>
<rect x="775.25" y="492.33" width="13.05" height="82.87" fill="#0000ff" stroke="#111" stroke-width="0.9"/>
<line x1="742.62" y1="565.58" x2="742.62" y2="571.48" stroke="#000" stroke-width="1.1"/>
<line x1="739.72" y1="565.58" x2="745.52" y2="565.58" stroke="#1a1a1a" stroke-width="1.2"/>
<line x1="739.72" y1="571.48" x2="745.52" y2="571.48" stroke="#1a1a1a" stroke-width="1.2"/>
<line x1="755.67" y1="568.03" x2="755.67" y2="571.97" stroke="#000" stroke-width="1.1"/>
<line x1="752.77" y1="568.03" x2="758.57" y2="568.03" stroke="#1a1a1a" stroke-width="1.2"/>
<line x1="752.77" y1="571.97" x2="758.57" y2="571.97" stroke="#1a1a1a" stroke-width="1.2"/>
<line x1="768.72" y1="510.76" x2="768.72" y2="523.05" stroke="#000" stroke-width="1.1"/>
<line x1="765.82" y1="510.76" x2="771.62" y2="510.76" stroke="#1a1a1a" stroke-width="1.2"/>
<line x1="765.82" y1="523.05" x2="771.62" y2="523.05" stroke="#1a1a1a" stroke-width="1.2"/>
<line x1="781.77" y1="488.40" x2="781.77" y2="496.26" stroke="#000" stroke-width="1.1"/>
<line x1="778.87" y1="488.40" x2="784.67" y2="488.40" stroke="#1a1a1a" stroke-width="1.2"/>
<line x1="778.87" y1="496.26" x2="784.67" y2="496.26" stroke="#1a1a1a" stroke-width="1.2"/>
<path d="M442.30 329.40H797.30V575.20" fill="none" stroke="#3a3a3a" stroke-width="1.5"/>
<line x1="442.30" y1="329.40" x2="442.30" y2="575.20" stroke="#333" stroke-width="1.2"/>
<line x1="442.30" y1="575.20" x2="797.30" y2="575.20" stroke="#222" stroke-width="1.3"/>
<line x1="436.70" y1="575.20" x2="442.30" y2="575.20" stroke="#333" stroke-width="1.1"/>
<text x="430.30" y="581.10" font-size="14" text-anchor="end" font-weight="normal" >0</text>
<line x1="436.70" y1="550.62" x2="442.30" y2="550.62" stroke="#333" stroke-width="1.1"/>
<text x="430.30" y="556.52" font-size="14" text-anchor="end" font-weight="normal" >0.05</text>
<line x1="436.70" y1="526.04" x2="442.30" y2="526.04" stroke="#333" stroke-width="1.1"/>
<text x="430.30" y="531.94" font-size="14" text-anchor="end" font-weight="normal" >0.1</text>
<line x1="436.70" y1="501.46" x2="442.30" y2="501.46" stroke="#333" stroke-width="1.1"/>
<text x="430.30" y="507.36" font-size="14" text-anchor="end" font-weight="normal" >0.15</text>
<line x1="436.70" y1="476.88" x2="442.30" y2="476.88" stroke="#333" stroke-width="1.1"/>
<text x="430.30" y="482.78" font-size="14" text-anchor="end" font-weight="normal" >0.2</text>
<line x1="436.70" y1="452.30" x2="442.30" y2="452.30" stroke="#333" stroke-width="1.1"/>
<text x="430.30" y="458.20" font-size="14" text-anchor="end" font-weight="normal" >0.25</text>
<line x1="436.70" y1="427.72" x2="442.30" y2="427.72" stroke="#333" stroke-width="1.1"/>
<text x="430.30" y="433.62" font-size="14" text-anchor="end" font-weight="normal" >0.3</text>
<line x1="436.70" y1="403.14" x2="442.30" y2="403.14" stroke="#333" stroke-width="1.1"/>
<text x="430.30" y="409.04" font-size="14" text-anchor="end" font-weight="normal" >0.35</text>
<line x1="436.70" y1="378.56" x2="442.30" y2="378.56" stroke="#333" stroke-width="1.1"/>
<text x="430.30" y="384.46" font-size="14" text-anchor="end" font-weight="normal" >0.4</text>
<line x1="436.70" y1="353.98" x2="442.30" y2="353.98" stroke="#333" stroke-width="1.1"/>
<text x="430.30" y="359.88" font-size="14" text-anchor="end" font-weight="normal" >0.45</text>
<line x1="436.70" y1="329.40" x2="442.30" y2="329.40" stroke="#333" stroke-width="1.1"/>
<text x="430.30" y="335.30" font-size="14" text-anchor="end" font-weight="normal" >0.5</text>
<line x1="442.30" y1="575.20" x2="442.30" y2="581.20" stroke="#333" stroke-width="1.1"/>
<line x1="513.30" y1="575.20" x2="513.30" y2="581.20" stroke="#333" stroke-width="1.1"/>
<line x1="584.30" y1="575.20" x2="584.30" y2="581.20" stroke="#333" stroke-width="1.1"/>
<line x1="655.30" y1="575.20" x2="655.30" y2="581.20" stroke="#333" stroke-width="1.1"/>
<line x1="726.30" y1="575.20" x2="726.30" y2="581.20" stroke="#333" stroke-width="1.1"/>
<line x1="797.30" y1="575.20" x2="797.30" y2="581.20" stroke="#333" stroke-width="1.1"/>
<text x="476.10" y="590.30" font-size="14" text-anchor="middle" font-weight="normal" >0</text>
<text x="547.10" y="590.30" font-size="14" text-anchor="middle" font-weight="normal" >1</text>
<text x="618.60" y="590.30" font-size="14" text-anchor="middle" font-weight="normal" >2</text>
<text x="689.60" y="590.30" font-size="14" text-anchor="middle" font-weight="normal" >4</text>
<text x="760.90" y="590.30" font-size="14" text-anchor="middle" font-weight="normal" >8</text>
<text x="620.00" y="606.60" font-size="13.8" text-anchor="middle">Atiprimod (<tspan font-family="Liberation Serif" font-style="italic">&#956;</tspan><tspan font-size="11.8">M</tspan>)</text>
<text x="0" y="0" font-size="14" text-anchor="middle" transform="translate(396.80,453.70) rotate(-90)">OD</text>
<rect x="531.60" y="344.10" width="6.6" height="6.6" fill="#9999ff" stroke="#222" stroke-width="0.9"/>
<text x="542.40" y="353.10" font-size="13.83">U266</text>
<rect x="610.60" y="344.10" width="6.6" height="6.6" fill="#ee5555" stroke="#222" stroke-width="0.9"/>
<text x="624.40" y="353.10" font-size="13.83">U266 + VEGF (5 ng ml<tspan dy="-6" font-size="10.5">&#8722;1</tspan><tspan dy="6">)</tspan></text>
<rect x="531.60" y="361.20" width="6.6" height="6.6" fill="#00ff00" stroke="#222" stroke-width="0.9"/>
<text x="542.40" y="370.10" font-size="13.83">U266 grown on KM102 stroma cells</text>
<rect x="531.60" y="378.10" width="6.6" height="6.6" fill="#0000ff" stroke="#222" stroke-width="0.9"/>
<text x="542.40" y="387.10" font-size="13.83">U266 grown on KM102 stroma + VEGF</text>
</svg></body></html>
